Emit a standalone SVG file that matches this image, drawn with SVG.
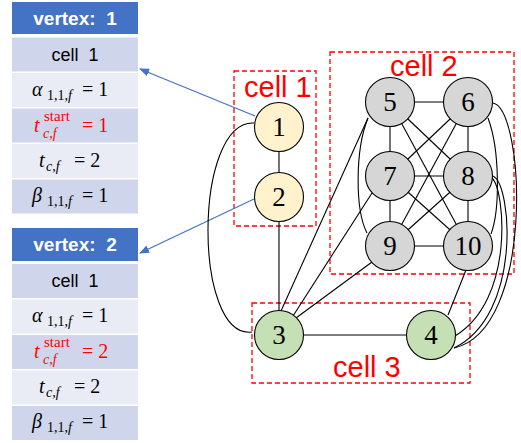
<svg xmlns="http://www.w3.org/2000/svg" width="521" height="443" viewBox="0 0 521 443">
<style>
.hdr{fill:#4472C4}
.dk{fill:#CFD5EA}
.lt{fill:#E9EBF5}
.ht{font-family:"Liberation Sans",Arial,sans-serif;font-weight:bold;font-size:19px;fill:#fff;text-anchor:middle;white-space:pre}
.ct{font-family:"Liberation Sans",Arial,sans-serif;font-size:18px;fill:#000;text-anchor:middle;white-space:pre}
.m{font-family:"Liberation Serif","Times New Roman",serif;font-size:20px;fill:#000}
.red{fill:#FF0000}
.it{font-style:italic}
.sub{font-size:14px}
.sm{font-size:15px}
.edge{stroke:#000;stroke-width:1.1;fill:none}
.blue{stroke:#4472C4;stroke-width:1.2;fill:none}
.cellbox{fill:none;stroke:#FF0000;stroke-width:1.3;stroke-dasharray:5,3}
.cl{font-family:"Liberation Sans",Arial,sans-serif;font-size:29px;fill:#FF0000}
.node{stroke:#000;stroke-width:1.1}
.y{fill:#FFF2CC}.g{fill:#D6D6D6}.gr{fill:#C5E0B4}
.nl{font-family:"Liberation Serif","Times New Roman",serif;font-size:27px;fill:#000;text-anchor:middle}
</style>
<defs>
<marker id="ah" markerWidth="10" markerHeight="8" refX="9" refY="4" orient="auto" markerUnits="userSpaceOnUse">
<path d="M0,0 L10,4 L0,8 z" fill="#4472C4"/>
</marker>
</defs>

<g id="table1">
<rect class="hdr" x="12" y="2" width="126" height="32"/>
<rect class="dk" x="12" y="37.5" width="126" height="34"/>
<rect class="lt" x="12" y="73" width="126" height="34"/>
<rect class="dk" x="12" y="108.5" width="126" height="34"/>
<rect class="lt" x="12" y="144" width="126" height="34"/>
<rect class="dk" x="12" y="179.5" width="126" height="34"/>
<text class="ht" x="75" y="25">vertex:  1</text>
<text class="ct" x="75" y="61">cell  1</text>
<text class="m"><tspan class="it" x="32" y="96">α</tspan><tspan class="sub" x="47" y="100">1,1,<tspan class="it">f</tspan></tspan><tspan x="82" y="96">= 1</tspan></text>
<text class="m red"><tspan class="it" x="34" y="132">t</tspan><tspan class="sub it" x="43" y="138">c,f</tspan><tspan x="82" y="132">= 1</tspan></text>
<text class="m red sm" x="44" y="121">start</text>
<text class="m"><tspan class="it" x="39" y="167">t</tspan><tspan class="sub it" x="46" y="171">c,f</tspan><tspan x="74" y="167">= 2</tspan></text>
<text class="m"><tspan class="it" x="32" y="202">β</tspan><tspan class="sub" x="47" y="206">1,1,<tspan class="it">f</tspan></tspan><tspan x="82" y="202">= 1</tspan></text>
</g>

<g id="table2" transform="translate(0,226)">
<rect class="hdr" x="12" y="2" width="126" height="33"/>
<rect class="dk" x="12" y="38" width="126" height="34"/>
<rect class="lt" x="12" y="73.5" width="126" height="34"/>
<rect class="dk" x="12" y="109" width="126" height="34"/>
<rect class="lt" x="12" y="144.5" width="126" height="34"/>
<rect class="dk" x="12" y="180" width="126" height="34"/>
<text class="ht" x="75" y="25">vertex:  2</text>
<text class="ct" x="75" y="61">cell  1</text>
<text class="m"><tspan class="it" x="32" y="96">α</tspan><tspan class="sub" x="47" y="100">1,1,<tspan class="it">f</tspan></tspan><tspan x="82" y="96">= 1</tspan></text>
<text class="m red"><tspan class="it" x="34" y="132">t</tspan><tspan class="sub it" x="43" y="138">c,f</tspan><tspan x="82" y="132">= 2</tspan></text>
<text class="m red sm" x="44" y="121">start</text>
<text class="m"><tspan class="it" x="39" y="167">t</tspan><tspan class="sub it" x="46" y="171">c,f</tspan><tspan x="74" y="167">= 2</tspan></text>
<text class="m"><tspan class="it" x="32" y="202">β</tspan><tspan class="sub" x="47" y="206">1,1,<tspan class="it">f</tspan></tspan><tspan x="82" y="202">= 1</tspan></text>
</g>

<g id="cells">
<rect class="cellbox" x="234" y="71" width="82" height="155"/>
<rect class="cellbox" x="330" y="52" width="184" height="222"/>
<rect class="cellbox" x="252" y="303" width="218" height="80"/>
<text class="cl" x="244" y="97">cell 1</text>
<text class="cl" x="390" y="76">cell 2</text>
<text class="cl" x="333" y="377">cell 3</text>
</g>

<g id="connectors">
<line class="blue" x1="255" y1="116" x2="140" y2="69" marker-end="url(#ah)"/>
<line class="blue" x1="254" y1="199" x2="140" y2="253" marker-end="url(#ah)"/>
<line class="edge" x1="279" y1="127" x2="279" y2="197"/>
<line class="edge" x1="279" y1="197" x2="279" y2="335"/>
<line class="edge" x1="279" y1="335" x2="431" y2="335"/>
<path class="edge" d="M254,123 C193,120 193,340 252,332"/>
<line class="edge" x1="368" y1="118" x2="281" y2="311"/>
<line class="edge" x1="372" y1="193" x2="293" y2="316"/>
<line class="edge" x1="372" y1="262" x2="296" y2="318"/>
<line class="edge" x1="466" y1="270" x2="448" y2="315"/>
<line class="edge" x1="390" y1="102" x2="468" y2="102"/>
<line class="edge" x1="390" y1="102" x2="390" y2="246"/>
<line class="edge" x1="468" y1="102" x2="468" y2="246"/>
<line class="edge" x1="390" y1="176" x2="468" y2="176"/>
<line class="edge" x1="390" y1="246" x2="468" y2="246"/>
<line class="edge" x1="390" y1="102" x2="468" y2="176"/>
<line class="edge" x1="390" y1="102" x2="468" y2="246"/>
<line class="edge" x1="468" y1="102" x2="390" y2="176"/>
<line class="edge" x1="468" y1="102" x2="390" y2="246"/>
<line class="edge" x1="390" y1="176" x2="468" y2="246"/>
<line class="edge" x1="468" y1="176" x2="390" y2="246"/>
<path class="edge" d="M368,118 C355,150 355,210 367,233"/>
<path class="edge" d="M488,118 C500,150 500,210 491,234"/>
<path class="edge" d="M493,103 C525,110 535,330 454,348"/>
<path class="edge" d="M492,178 C505,190 515,300 455,336"/>
<path class="edge" d="M493,176 C512,185 522,315 454,348"/>
</g>

<g id="n1"><circle class="node y" cx="279" cy="127" r="24.5"/><text class="nl" x="279" y="136">1</text></g>
<g id="n2"><circle class="node y" cx="279" cy="197" r="24.5"/><text class="nl" x="279" y="206">2</text></g>
<g id="n3"><circle class="node gr" cx="279" cy="335" r="24.5"/><text class="nl" x="279" y="344">3</text></g>
<g id="n4"><circle class="node gr" cx="431" cy="335" r="24.5"/><text class="nl" x="431" y="344">4</text></g>
<g id="n5"><circle class="node g" cx="390" cy="102" r="24.5"/><text class="nl" x="390" y="111">5</text></g>
<g id="n6"><circle class="node g" cx="468" cy="102" r="24.5"/><text class="nl" x="468" y="111">6</text></g>
<g id="n7"><circle class="node g" cx="390" cy="176" r="24.5"/><text class="nl" x="390" y="185">7</text></g>
<g id="n8"><circle class="node g" cx="468" cy="176" r="24.5"/><text class="nl" x="468" y="185">8</text></g>
<g id="n9"><circle class="node g" cx="390" cy="246" r="24.5"/><text class="nl" x="390" y="255">9</text></g>
<g id="n10"><circle class="node g" cx="468" cy="246" r="24.5"/><text class="nl" x="468" y="255">10</text></g>
</svg>
